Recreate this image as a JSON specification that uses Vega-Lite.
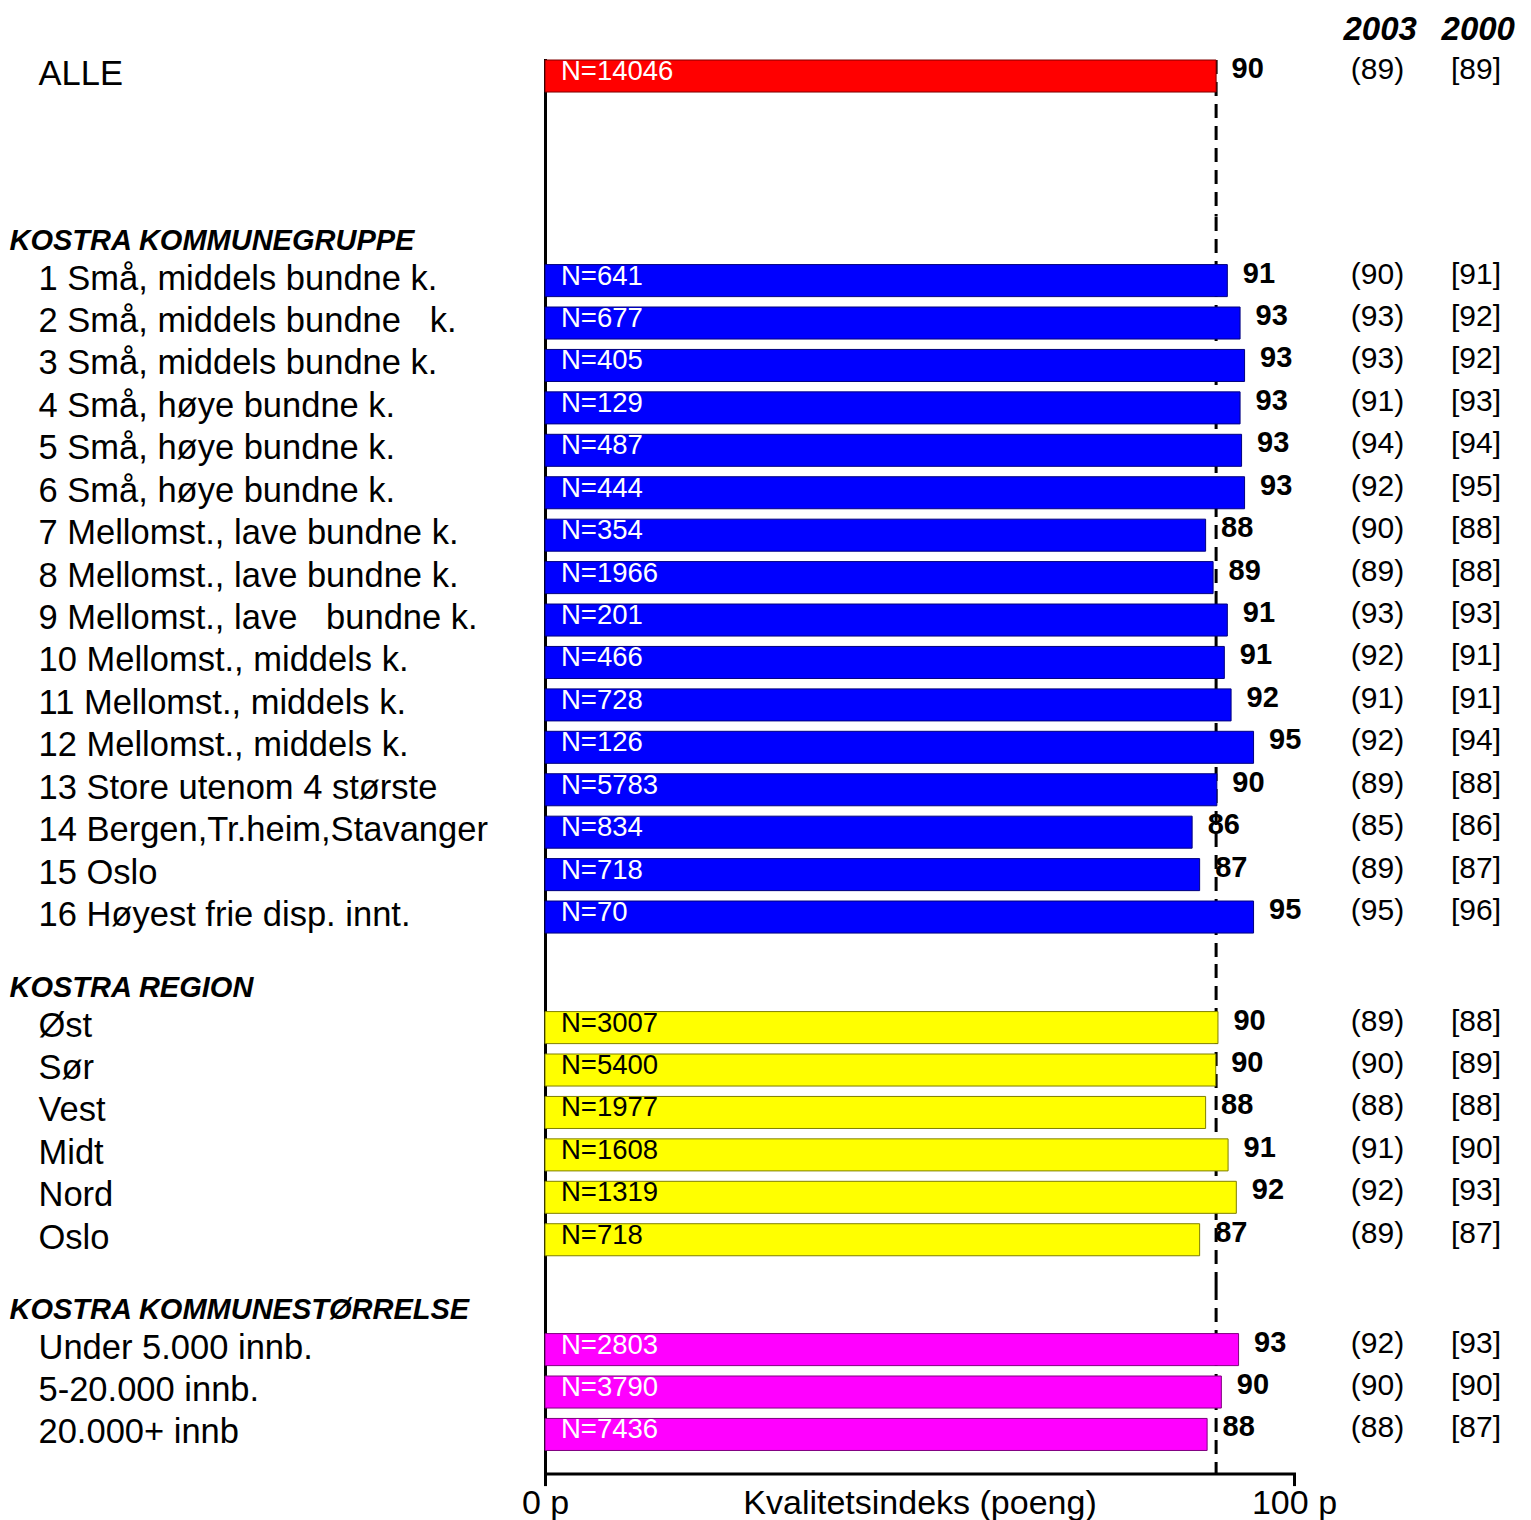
{
  "$schema": "https://vega.github.io/schema/vega-lite/v6.json",
  "background": "white",
  "padding": {"left": 9, "top": 14, "right": 5, "bottom": 0},
  "bounds": "flush",
  "spacing": 0,
  "config": {"view": {"stroke": null}, "font": "Liberation Sans"},
  "datasets": {
    "alle": [{"label": "ALLE", "value": 89.6, "n": 14046, "v2003": 89, "v2000": 89}],
    "kommune": [
      {"label": "1 Små, middels bundne k.", "value": 91.1, "n": 641, "v2003": 90, "v2000": 91},
      {"label": "2 Små, middels bundne\u00a0\u00a0 k.", "value": 92.8, "n": 677, "v2003": 93, "v2000": 92},
      {"label": "3 Små, middels bundne k.", "value": 93.4, "n": 405, "v2003": 93, "v2000": 92},
      {"label": "4 Små, høye bundne k.", "value": 92.8, "n": 129, "v2003": 91, "v2000": 93},
      {"label": "5 Små, høye bundne k.", "value": 93.0, "n": 487, "v2003": 94, "v2000": 94},
      {"label": "6 Små, høye bundne k.", "value": 93.4, "n": 444, "v2003": 92, "v2000": 95},
      {"label": "7 Mellomst., lave bundne k.", "value": 88.2, "n": 354, "v2003": 90, "v2000": 88},
      {"label": "8 Mellomst., lave bundne k.", "value": 89.2, "n": 1966, "v2003": 89, "v2000": 88},
      {"label": "9 Mellomst., lave\u00a0\u00a0 bundne k.", "value": 91.1, "n": 201, "v2003": 93, "v2000": 93},
      {"label": "10 Mellomst., middels k.", "value": 90.7, "n": 466, "v2003": 92, "v2000": 91},
      {"label": "11 Mellomst., middels k.", "value": 91.6, "n": 728, "v2003": 91, "v2000": 91},
      {"label": "12 Mellomst., middels k.", "value": 94.6, "n": 126, "v2003": 92, "v2000": 94},
      {"label": "13 Store utenom 4 største", "value": 89.7, "n": 5783, "v2003": 89, "v2000": 88},
      {"label": "14 Bergen,Tr.heim,Stavanger", "value": 86.4, "n": 834, "v2003": 85, "v2000": 86},
      {"label": "15 Oslo", "value": 87.4, "n": 718, "v2003": 89, "v2000": 87},
      {"label": "16 Høyest frie disp. innt.", "value": 94.6, "n": 70, "v2003": 95, "v2000": 96}
    ],
    "region": [
      {"label": "Øst", "value": 89.85, "n": 3007, "v2003": 89, "v2000": 88},
      {"label": "Sør", "value": 89.55, "n": 5400, "v2003": 90, "v2000": 89},
      {"label": "Vest", "value": 88.2, "n": 1977, "v2003": 88, "v2000": 88},
      {"label": "Midt", "value": 91.2, "n": 1608, "v2003": 91, "v2000": 90},
      {"label": "Nord", "value": 92.3, "n": 1319, "v2003": 92, "v2000": 93},
      {"label": "Oslo", "value": 87.4, "n": 718, "v2003": 89, "v2000": 87}
    ],
    "storrelse": [
      {"label": "Under 5.000 innb.", "value": 92.6, "n": 2803, "v2003": 92, "v2000": 93},
      {"label": "5-20.000 innb.", "value": 90.3, "n": 3790, "v2003": 90, "v2000": 90},
      {"label": "20.000+ innb", "value": 88.4, "n": 7436, "v2003": 88, "v2000": 87}
    ]
  },
  "vconcat": [
    {
      "width": 749, "height": 156.4,
      "data": {"name": "alle"},
      "layer": [
        {"data": {"values": [{}]}, "mark": {"type": "rule", "strokeDash": [14, 8], "strokeWidth": 3, "color": "black"},
         "encoding": {"x": {"datum": 89.6, "type": "quantitative", "scale": {"domain": [0, 100], "nice": false}, "axis": null}}},
        {"mark": {"type": "bar", "fill": "#ff0000", "stroke": "#7f0000", "strokeWidth": 1},
         "encoding": {
           "y": {"field": "label", "type": "nominal", "title": null,
                 "scale": {"type": "band", "domain": ["ALLE", "\u00a0"], "paddingInner": 0.245, "paddingOuter": 0.9655, "align": 0},
                 "axis": {"title": null, "domain": true, "domainColor": "black", "domainWidth": 3, "domainCap": "square", "ticks": false, "tickSize": 0, "grid": false,
                          "labelAlign": "left", "labelBaseline": "alphabetic", "labelFont": "Liberation Sans", "labelFontSize": 34.5, "labelColor": "black",
                          "labelPadding": 507, "labelOffset": 9, "labelLimit": 0, "labelOverlap": false}},
           "x": {"field": "value", "type": "quantitative", "scale": {"domain": [0, 100], "nice": false}, "axis": null}}},
        {"mark": {"type": "text", "align": "left", "baseline": "alphabetic", "dx": 16, "dy": 4, "fontSize": 27.5, "color": "white", "text": {"expr": "'N=' + datum.n"}},
         "encoding": {"y": {"field": "label", "type": "nominal", "title": null}, "x": {"datum": 0, "type": "quantitative", "axis": null}}},
        {"mark": {"type": "text", "align": "left", "baseline": "alphabetic", "dx": 15.5, "dy": 2, "fontSize": 29, "fontWeight": "bold", "color": "black"},
         "encoding": {"y": {"field": "label", "type": "nominal", "title": null}, "x": {"field": "value", "type": "quantitative", "axis": null}, "text": {"field": "value", "format": ".0f"}}},
        {"mark": {"type": "text", "align": "center", "baseline": "alphabetic", "dy": 3, "fontSize": 30, "color": "black", "text": {"expr": "'(' + datum.v2003 + ')'"}},
         "encoding": {"y": {"field": "label", "type": "nominal", "title": null}, "x": {"datum": 111.15, "type": "quantitative", "axis": null}}},
        {"mark": {"type": "text", "align": "center", "baseline": "alphabetic", "dy": 3, "fontSize": 30, "color": "black", "text": {"expr": "'[' + datum.v2000 + ']'"}},
         "encoding": {"y": {"field": "label", "type": "nominal", "title": null}, "x": {"datum": 124.3, "type": "quantitative", "axis": null}}},
        {"mark": {"type": "text", "text": "2003", "align": "center", "baseline": "alphabetic", "dy": -36, "fontSize": 33, "fontWeight": "bold", "fontStyle": "italic", "color": "black"},
         "encoding": {"y": {"field": "label", "type": "nominal", "title": null}, "x": {"datum": 111.5, "type": "quantitative", "axis": null}}},
        {"mark": {"type": "text", "text": "2000", "align": "center", "baseline": "alphabetic", "dy": -36, "fontSize": 33, "fontWeight": "bold", "fontStyle": "italic", "color": "black"},
         "encoding": {"y": {"field": "label", "type": "nominal", "title": null}, "x": {"datum": 124.6, "type": "quantitative", "axis": null}}}
      ]
    },
    {
      "width": 749, "height": 747,
      "data": {"name": "kommune"},
      "layer": [
        {"data": {"values": [{}]}, "mark": {"type": "rule", "strokeDash": [14, 8], "strokeWidth": 3, "color": "black"},
         "encoding": {"x": {"datum": 89.6, "type": "quantitative", "scale": {"domain": [0, 100], "nice": false}, "axis": null}}},
        {"mark": {"type": "bar", "fill": "#0000ff", "stroke": "#00007f", "strokeWidth": 1},
         "encoding": {
           "y": {"field": "label", "type": "nominal", "title": null,
                 "scale": {"type": "band", "domain": ["KOSTRA KOMMUNEGRUPPE", "1 Små, middels bundne k.", "2 Små, middels bundne\u00a0\u00a0 k.", "3 Små, middels bundne k.", "4 Små, høye bundne k.", "5 Små, høye bundne k.", "6 Små, høye bundne k.", "7 Mellomst., lave bundne k.", "8 Mellomst., lave bundne k.", "9 Mellomst., lave\u00a0\u00a0 bundne k.", "10 Mellomst., middels k.", "11 Mellomst., middels k.", "12 Mellomst., middels k.", "13 Store utenom 4 største", "14 Bergen,Tr.heim,Stavanger", "15 Oslo", "16 Høyest frie disp. innt."],
                           "paddingInner": 0.245, "paddingOuter": 0.42525, "align": 0.1427},
                 "axis": {"title": null, "domain": true, "domainColor": "black", "domainWidth": 3, "domainCap": "square", "ticks": false, "tickSize": 0, "grid": false,
                          "labelAlign": "left", "labelBaseline": "alphabetic", "labelFont": "Liberation Sans", "labelColor": "black", "labelLimit": 0, "labelOverlap": false,
                          "labelFontSize": {"condition": {"test": "indexof(datum.value, 'KOSTRA') === 0", "value": 29}, "value": 34.5},
                          "labelFontWeight": {"condition": {"test": "indexof(datum.value, 'KOSTRA') === 0", "value": "bold"}, "value": "normal"},
                          "labelFontStyle": {"condition": {"test": "indexof(datum.value, 'KOSTRA') === 0", "value": "italic"}, "value": "normal"},
                          "labelPadding": {"condition": {"test": "indexof(datum.value, 'KOSTRA') === 0", "value": 536}, "value": 507},
                          "labelOffset": {"condition": {"test": "indexof(datum.value, 'KOSTRA') === 0", "value": 12}, "value": 9}}},
           "x": {"field": "value", "type": "quantitative", "scale": {"domain": [0, 100], "nice": false}, "axis": null}}},
        {"mark": {"type": "text", "align": "left", "baseline": "alphabetic", "dx": 16, "dy": 4, "fontSize": 27.5, "color": "white", "text": {"expr": "'N=' + datum.n"}},
         "encoding": {"y": {"field": "label", "type": "nominal", "title": null}, "x": {"datum": 0, "type": "quantitative", "axis": null}}},
        {"mark": {"type": "text", "align": "left", "baseline": "alphabetic", "dx": 15.5, "dy": 2, "fontSize": 29, "fontWeight": "bold", "color": "black"},
         "encoding": {"y": {"field": "label", "type": "nominal", "title": null}, "x": {"field": "value", "type": "quantitative", "axis": null}, "text": {"field": "value", "format": ".0f"}}},
        {"mark": {"type": "text", "align": "center", "baseline": "alphabetic", "dy": 3, "fontSize": 30, "color": "black", "text": {"expr": "'(' + datum.v2003 + ')'"}},
         "encoding": {"y": {"field": "label", "type": "nominal", "title": null}, "x": {"datum": 111.15, "type": "quantitative", "axis": null}}},
        {"mark": {"type": "text", "align": "center", "baseline": "alphabetic", "dy": 3, "fontSize": 30, "color": "black", "text": {"expr": "'[' + datum.v2000 + ']'"}},
         "encoding": {"y": {"field": "label", "type": "nominal", "title": null}, "x": {"datum": 124.3, "type": "quantitative", "axis": null}}}
      ]
    },
    {
      "width": 749, "height": 322,
      "data": {"name": "region"},
      "layer": [
        {"data": {"values": [{}]}, "mark": {"type": "rule", "strokeDash": [14, 8], "strokeWidth": 3, "color": "black"},
         "encoding": {"x": {"datum": 89.6, "type": "quantitative", "scale": {"domain": [0, 100], "nice": false}, "axis": null}}},
        {"mark": {"type": "bar", "fill": "#ffff00", "stroke": "#7f7f00", "strokeWidth": 1},
         "encoding": {
           "y": {"field": "label", "type": "nominal", "title": null,
                 "scale": {"type": "band", "domain": ["KOSTRA REGION", "Øst", "Sør", "Vest", "Midt", "Nord", "Oslo"],
                           "paddingInner": 0.245, "paddingOuter": 0.417, "align": 0.1455},
                 "axis": {"title": null, "domain": true, "domainColor": "black", "domainWidth": 3, "domainCap": "square", "ticks": false, "tickSize": 0, "grid": false,
                          "labelAlign": "left", "labelBaseline": "alphabetic", "labelFont": "Liberation Sans", "labelColor": "black", "labelLimit": 0, "labelOverlap": false,
                          "labelFontSize": {"condition": {"test": "indexof(datum.value, 'KOSTRA') === 0", "value": 29}, "value": 34.5},
                          "labelFontWeight": {"condition": {"test": "indexof(datum.value, 'KOSTRA') === 0", "value": "bold"}, "value": "normal"},
                          "labelFontStyle": {"condition": {"test": "indexof(datum.value, 'KOSTRA') === 0", "value": "italic"}, "value": "normal"},
                          "labelPadding": {"condition": {"test": "indexof(datum.value, 'KOSTRA') === 0", "value": 536}, "value": 507},
                          "labelOffset": {"condition": {"test": "indexof(datum.value, 'KOSTRA') === 0", "value": 12}, "value": 9}}},
           "x": {"field": "value", "type": "quantitative", "scale": {"domain": [0, 100], "nice": false}, "axis": null}}},
        {"mark": {"type": "text", "align": "left", "baseline": "alphabetic", "dx": 16, "dy": 4, "fontSize": 27.5, "color": "black", "text": {"expr": "'N=' + datum.n"}},
         "encoding": {"y": {"field": "label", "type": "nominal", "title": null}, "x": {"datum": 0, "type": "quantitative", "axis": null}}},
        {"mark": {"type": "text", "align": "left", "baseline": "alphabetic", "dx": 15.5, "dy": 2, "fontSize": 29, "fontWeight": "bold", "color": "black"},
         "encoding": {"y": {"field": "label", "type": "nominal", "title": null}, "x": {"field": "value", "type": "quantitative", "axis": null}, "text": {"field": "value", "format": ".0f"}}},
        {"mark": {"type": "text", "align": "center", "baseline": "alphabetic", "dy": 3, "fontSize": 30, "color": "black", "text": {"expr": "'(' + datum.v2003 + ')'"}},
         "encoding": {"y": {"field": "label", "type": "nominal", "title": null}, "x": {"datum": 111.15, "type": "quantitative", "axis": null}}},
        {"mark": {"type": "text", "align": "center", "baseline": "alphabetic", "dy": 3, "fontSize": 30, "color": "black", "text": {"expr": "'[' + datum.v2000 + ']'"}},
         "encoding": {"y": {"field": "label", "type": "nominal", "title": null}, "x": {"datum": 124.3, "type": "quantitative", "axis": null}}}
      ]
    },
    {
      "width": 749, "height": 187.6,
      "data": {"name": "storrelse"},
      "layer": [
        {"data": {"values": [{}]}, "mark": {"type": "rule", "strokeDash": [14, 8], "strokeWidth": 3, "color": "black"},
         "encoding": {"x": {"datum": 89.6, "type": "quantitative", "scale": {"domain": [0, 100], "nice": false}}}},
        {"mark": {"type": "bar", "fill": "#ff00ff", "stroke": "#7f007f", "strokeWidth": 1},
         "encoding": {
           "y": {"field": "label", "type": "nominal", "title": null,
                 "scale": {"type": "band", "domain": ["KOSTRA KOMMUNESTØRRELSE", "Under 5.000 innb.", "5-20.000 innb.", "20.000+ innb"],
                           "paddingInner": 0.245, "paddingOuter": 0.3332, "align": 0.1821},
                 "axis": {"title": null, "domain": true, "domainColor": "black", "domainWidth": 3, "domainCap": "square", "ticks": false, "tickSize": 0, "grid": false,
                          "labelAlign": "left", "labelBaseline": "alphabetic", "labelFont": "Liberation Sans", "labelColor": "black", "labelLimit": 0, "labelOverlap": false,
                          "labelFontSize": {"condition": {"test": "indexof(datum.value, 'KOSTRA') === 0", "value": 29}, "value": 34.5},
                          "labelFontWeight": {"condition": {"test": "indexof(datum.value, 'KOSTRA') === 0", "value": "bold"}, "value": "normal"},
                          "labelFontStyle": {"condition": {"test": "indexof(datum.value, 'KOSTRA') === 0", "value": "italic"}, "value": "normal"},
                          "labelPadding": {"condition": {"test": "indexof(datum.value, 'KOSTRA') === 0", "value": 536}, "value": 507},
                          "labelOffset": {"condition": {"test": "indexof(datum.value, 'KOSTRA') === 0", "value": 12}, "value": 9}}},
           "x": {"field": "value", "type": "quantitative", "title": "Kvalitetsindeks (poeng)", "scale": {"domain": [0, 100], "nice": false},
                 "axis": {"values": [0, 100], "labelExpr": "datum.value + ' p'", "domain": true, "domainColor": "black", "domainWidth": 3, "domainCap": "square",
                          "ticks": true, "tickSize": 12, "tickWidth": 3, "tickColor": "black", "grid": false,
                          "labelFont": "Liberation Sans", "labelFontSize": 34, "labelColor": "black", "labelBaseline": "alphabetic", "labelPadding": 28,
                          "labelFlush": false, "labelOverlap": false,
                          "title": "Kvalitetsindeks (poeng)", "titleFont": "Liberation Sans", "titleFontSize": 34, "titleFontWeight": "normal", "titleColor": "black",
                          "titleBaseline": "alphabetic", "titleY": 40}}}},
        {"mark": {"type": "text", "align": "left", "baseline": "alphabetic", "dx": 16, "dy": 4, "fontSize": 27.5, "color": "white", "text": {"expr": "'N=' + datum.n"}},
         "encoding": {"y": {"field": "label", "type": "nominal", "title": null}, "x": {"datum": 0, "type": "quantitative"}}},
        {"mark": {"type": "text", "align": "left", "baseline": "alphabetic", "dx": 15.5, "dy": 2, "fontSize": 29, "fontWeight": "bold", "color": "black"},
         "encoding": {"y": {"field": "label", "type": "nominal", "title": null}, "x": {"field": "value", "type": "quantitative", "title": "Kvalitetsindeks (poeng)"}, "text": {"field": "value", "format": ".0f"}}},
        {"mark": {"type": "text", "align": "center", "baseline": "alphabetic", "dy": 3, "fontSize": 30, "color": "black", "text": {"expr": "'(' + datum.v2003 + ')'"}},
         "encoding": {"y": {"field": "label", "type": "nominal", "title": null}, "x": {"datum": 111.15, "type": "quantitative"}}},
        {"mark": {"type": "text", "align": "center", "baseline": "alphabetic", "dy": 3, "fontSize": 30, "color": "black", "text": {"expr": "'[' + datum.v2000 + ']'"}},
         "encoding": {"y": {"field": "label", "type": "nominal", "title": null}, "x": {"datum": 124.3, "type": "quantitative"}}}
      ]
    }
  ]
}
